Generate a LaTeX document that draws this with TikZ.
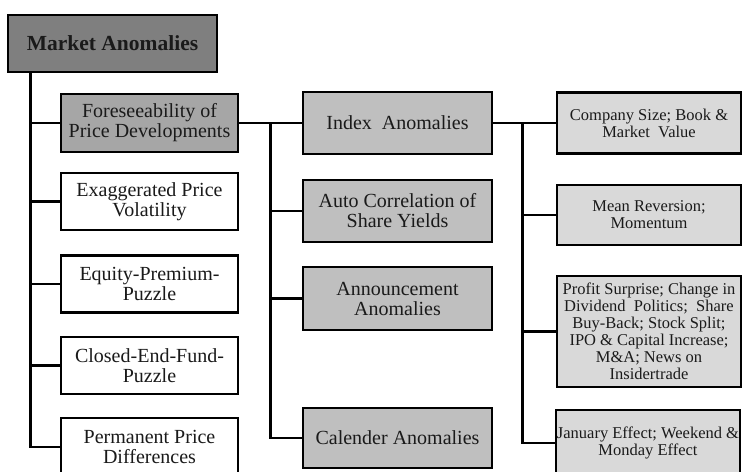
\documentclass[tikz,border=0pt]{standalone}
\usepackage{fontspec}
\setmainfont{Liberation Serif}
\usetikzlibrary{positioning}
\definecolor{GRoot}{HTML}{7F7F7F}
\definecolor{GOne}{HTML}{A6A6A6}
\definecolor{GTwo}{HTML}{BFBFBF}
\definecolor{GThree}{HTML}{D9D9D9}
\definecolor{CInk}{HTML}{1A1A1A}

\tikzset{
    box/.style={draw=black, line width=2.6pt, align=center, inner sep=1pt, text=CInk},
    rootbox/.style={box, fill=GRoot, minimum width=209pt, minimum height=57pt, font=\fontsize{21.5}{24}\selectfont\bfseries},
    leftbox/.style={box, fill=white, minimum width=177pt, minimum height=57pt, font=\fontsize{20}{20}\selectfont},
    midbox/.style={box, fill=GTwo, minimum width=189pt, minimum height=62pt, font=\fontsize{20}{20}\selectfont},
    rightbox/.style={box, fill=GThree, minimum width=184pt, minimum height=61pt, font=\fontsize{16.5}{17}\selectfont},
    branch/.style={line width=2.6pt, line join=miter}
}

\begin{document}
\begin{tikzpicture}[x=1pt, y=-1pt]
    \useasboundingbox (0,0) rectangle (743,471);
    \clip (0,0) rectangle (743,471);

    % Root
    \node[rootbox] (root) at (112.5,43.5) {Market Anomalies};

    % First level
    \node[leftbox, fill=GOne, minimum height=58pt] (fore) at (149.5,123) {Foreseeability of\\Price Developments};
    \node[leftbox] (exag) at (149.5,201.5) {Exaggerated Price\\Volatility};
    \node[leftbox] (equity) at (149.5,284) {Equity-Premium-\\Puzzle};
    \node[leftbox] (closed) at (149.5,365.5) {Closed-End-Fund-\\Puzzle};
    \node[leftbox, minimum height=58pt] (perm) at (149.5,447) {Permanent Price\\Differences};

    % Second level
    \node[midbox] (index) at (397.5,123) {Index~ Anomalies};
    \node[midbox] (autocorr) at (397.5,211) {Auto Correlation of\\Share Yields};
    \node[midbox, minimum height=63pt] (announce) at (397.5,298.5) {Announcement\\Anomalies};
    \node[midbox, minimum height=60pt] (calender) at (397.5,438) {Calender Anomalies};

    % Third level
    \node[rightbox] (size) at (649,123) {Company Size; Book \&\\Market~ Value};
    \node[rightbox, minimum height=60pt] (meanrev) at (649,215) {Mean Reversion;\\Momentum};
    \node[rightbox, minimum height=111pt, inner sep=0pt] (surprise) at (649,331.5) {Profit Surprise; Change in\\Dividend~ Politics;~ Share\\Buy-Back; Stock Split;\\IPO \& Capital Increase;\\M\&A; News on\\Insidertrade};
    % first line runs over the box edge
    \node[rightbox, minimum height=66pt, inner sep=0pt] (january) at (648,443) {\makebox[180pt]{January Effect; Weekend \&}\\Monday Effect};

    % Trunk below the root
    \draw[branch] ([xshift=24pt]root.south west) |- (fore.west);
    \draw[branch] ([xshift=24pt]root.south west) |- (exag.west);
    \draw[branch] ([xshift=24pt]root.south west) |- (equity.west);
    \draw[branch] ([xshift=24pt]root.south west) |- (closed.west);
    \draw[branch] ([xshift=24pt]root.south west) |- (perm.west);

    % Foreseeability to its anomalies
    \draw[branch] (fore.east) -- (index.west);
    \draw[branch] ([xshift=-31pt]index.west) |- (autocorr.west);
    \draw[branch] ([xshift=-31pt]index.west) |- (announce.west);
    \draw[branch] ([xshift=-31pt]index.west) |- (calender.west);

    % Index anomalies to their effects
    \draw[branch] (index.east) -- (size.west);
    \draw[branch] ([xshift=-33pt]size.west) |- (meanrev.west);
    \draw[branch] ([xshift=-33pt]size.west) |- (surprise.west);
    \draw[branch] ([xshift=-33pt]size.west) |- (january.west);
\end{tikzpicture}
\end{document}
